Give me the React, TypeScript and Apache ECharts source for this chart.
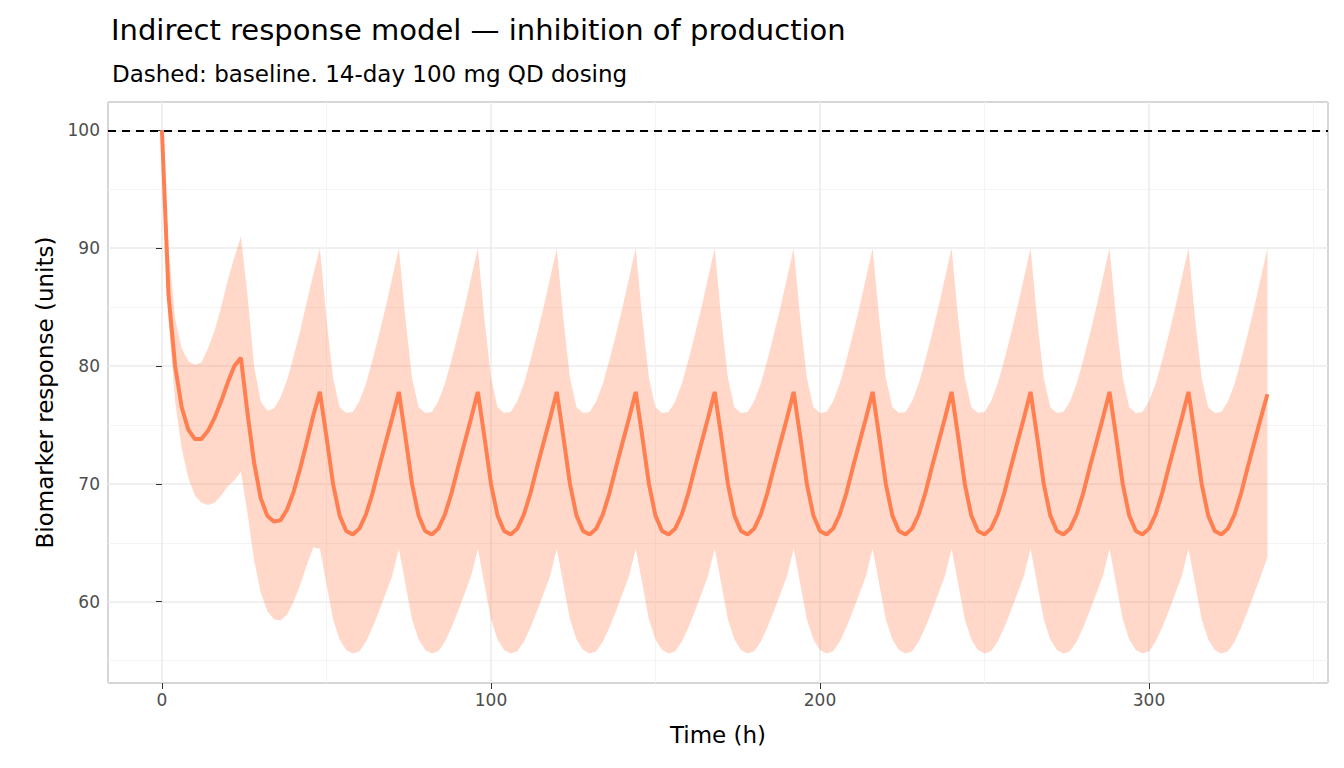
import React, { useEffect, useRef } from "react";
import * as echarts from "echarts";

// sampling every 2 h, 0..336
const STEP_H = 2;

// first two dosing intervals (0-48 h)
const meanStart = [100, 86, 80, 76.5, 74.6, 73.8, 73.8, 74.5, 75.6, 77, 78.6, 80, 80.7,
  76, 71.8, 68.8, 67.3, 66.8, 66.9, 67.8, 69.3, 71.3, 73.5, 75.8];
const upperStart = [100, 90, 84, 81.5, 80.4, 80.1, 80.3, 81.5, 83, 85, 87.3, 89.2, 91,
  86, 80, 77, 76.2, 76.4, 77.3, 78.8, 80.8, 83, 85.4, 87.8];
const lowerStart = [100, 84, 77, 73, 70.5, 69, 68.4, 68.2, 68.4, 69, 69.8, 70.3, 71,
  67.5, 63.5, 60.8, 59.2, 58.5, 58.4, 58.9, 60, 61.4, 63.1, 64.6];

// steady-state dosing interval (24 h, starts at the dose peak)
const meanCycle = [77.8, 74, 70, 67.3, 66, 65.7, 66.2, 67.4, 69.2, 71.4, 73.5, 75.6];
const upperCycle = [90, 84, 79, 76.5, 76, 76.1, 77, 78.5, 80.5, 82.7, 85, 87.5];
const lowerCycle = [64.5, 61.5, 58.5, 56.8, 55.9, 55.6, 55.8, 56.6, 57.8, 59.2, 60.7, 62.2];
const lastPoint = { mean: 77.6, upper: 90, lower: 63.8 };
const steadyCycles = 12;

const BASELINE = 100;

function build(start: number[], cycle: number[], last: number): number[][] {
  const vals = [...start];
  for (let c = 0; c < steadyCycles; c++) vals.push(...cycle);
  vals.push(last);
  return vals.map((v, i) => [i * STEP_H, v]);
}

const FONT = "DejaVu Sans";

export default function App() {
  const ref = useRef<HTMLDivElement>(null);

  useEffect(() => {
    if (!ref.current) return;
    const chart = echarts.init(ref.current, undefined, { renderer: "svg" });
    const mean = build(meanStart, meanCycle, lastPoint.mean);
    const upper = build(upperStart, upperCycle, lastPoint.upper);
    const lower = build(lowerStart, lowerCycle, lastPoint.lower);
    const band = upper.map((p, i) => [p[0], lower[i][1], p[1]]);

    const axisCommon = {
      axisLine: { show: false },
      axisTick: { show: true, length: 6, lineStyle: { color: "#333" } },
      axisLabel: { color: "#4D4D4D", fontSize: 17, fontFamily: FONT, showMinLabel: false, showMaxLabel: false },
      splitLine: { show: true, lineStyle: { color: "#EBEBEB", width: 1.5 } },
      minorTick: { show: false, splitNumber: 2 },
      minorSplitLine: { show: true, lineStyle: { color: "#F4F4F4", width: 1 } },
      nameLocation: "middle" as const,
      nameTextStyle: { color: "#000", fontSize: 23, fontFamily: FONT },
    };

    chart.setOption({
      animation: false,
      title: [
        { text: "Indirect response model — inhibition of production", left: 106, top: 10,
          textStyle: { fontSize: 29, fontWeight: "normal", color: "#000", fontFamily: FONT } },
        { text: "Dashed: baseline. 14-day 100 mg QD dosing", left: 107, top: 57,
          textStyle: { fontSize: 23, fontWeight: "normal", color: "#000", fontFamily: FONT } },
      ],
      grid: { left: 108, right: 16, top: 102, bottom: 85, show: true, borderColor: "#333", borderWidth: 1, backgroundColor: "transparent" },
      xAxis: { ...axisCommon, type: "value", min: -16.4, max: 354.4, splitNumber: 4, name: "Time (h)", nameGap: 40 },
      yAxis: { ...axisCommon, type: "value", min: 53.1, max: 102.4, splitNumber: 5, name: "Biomarker response (units)", nameGap: 50 },
      series: [
        {
          type: "custom", data: band, silent: true, encode: { x: 0, y: [1, 2] },
          renderItem: (params: any, api: any) => {
            if (params.dataIndex !== 0) return null;
            const top = band.map((d) => api.coord([d[0], d[2]]));
            const bot = band.map((d) => api.coord([d[0], d[1]])).reverse();
            return { type: "polygon", shape: { points: [...top, ...bot] }, style: { fill: "rgba(255,127,80,0.3)" } };
          },
        },
        { type: "line", data: mean, symbol: "none", lineStyle: { color: "#FF7F50", width: 4 },
          markLine: { symbol: "none", silent: true, label: { show: false },
            lineStyle: { color: "#000", type: [8, 6], width: 2 }, data: [{ yAxis: BASELINE }] } },
      ],
    });
    return () => chart.dispose();
  }, []);

  return <div ref={ref} style={{ width: 1344, height: 768, position: "absolute", left: 0, top: 0 }} />;
}
